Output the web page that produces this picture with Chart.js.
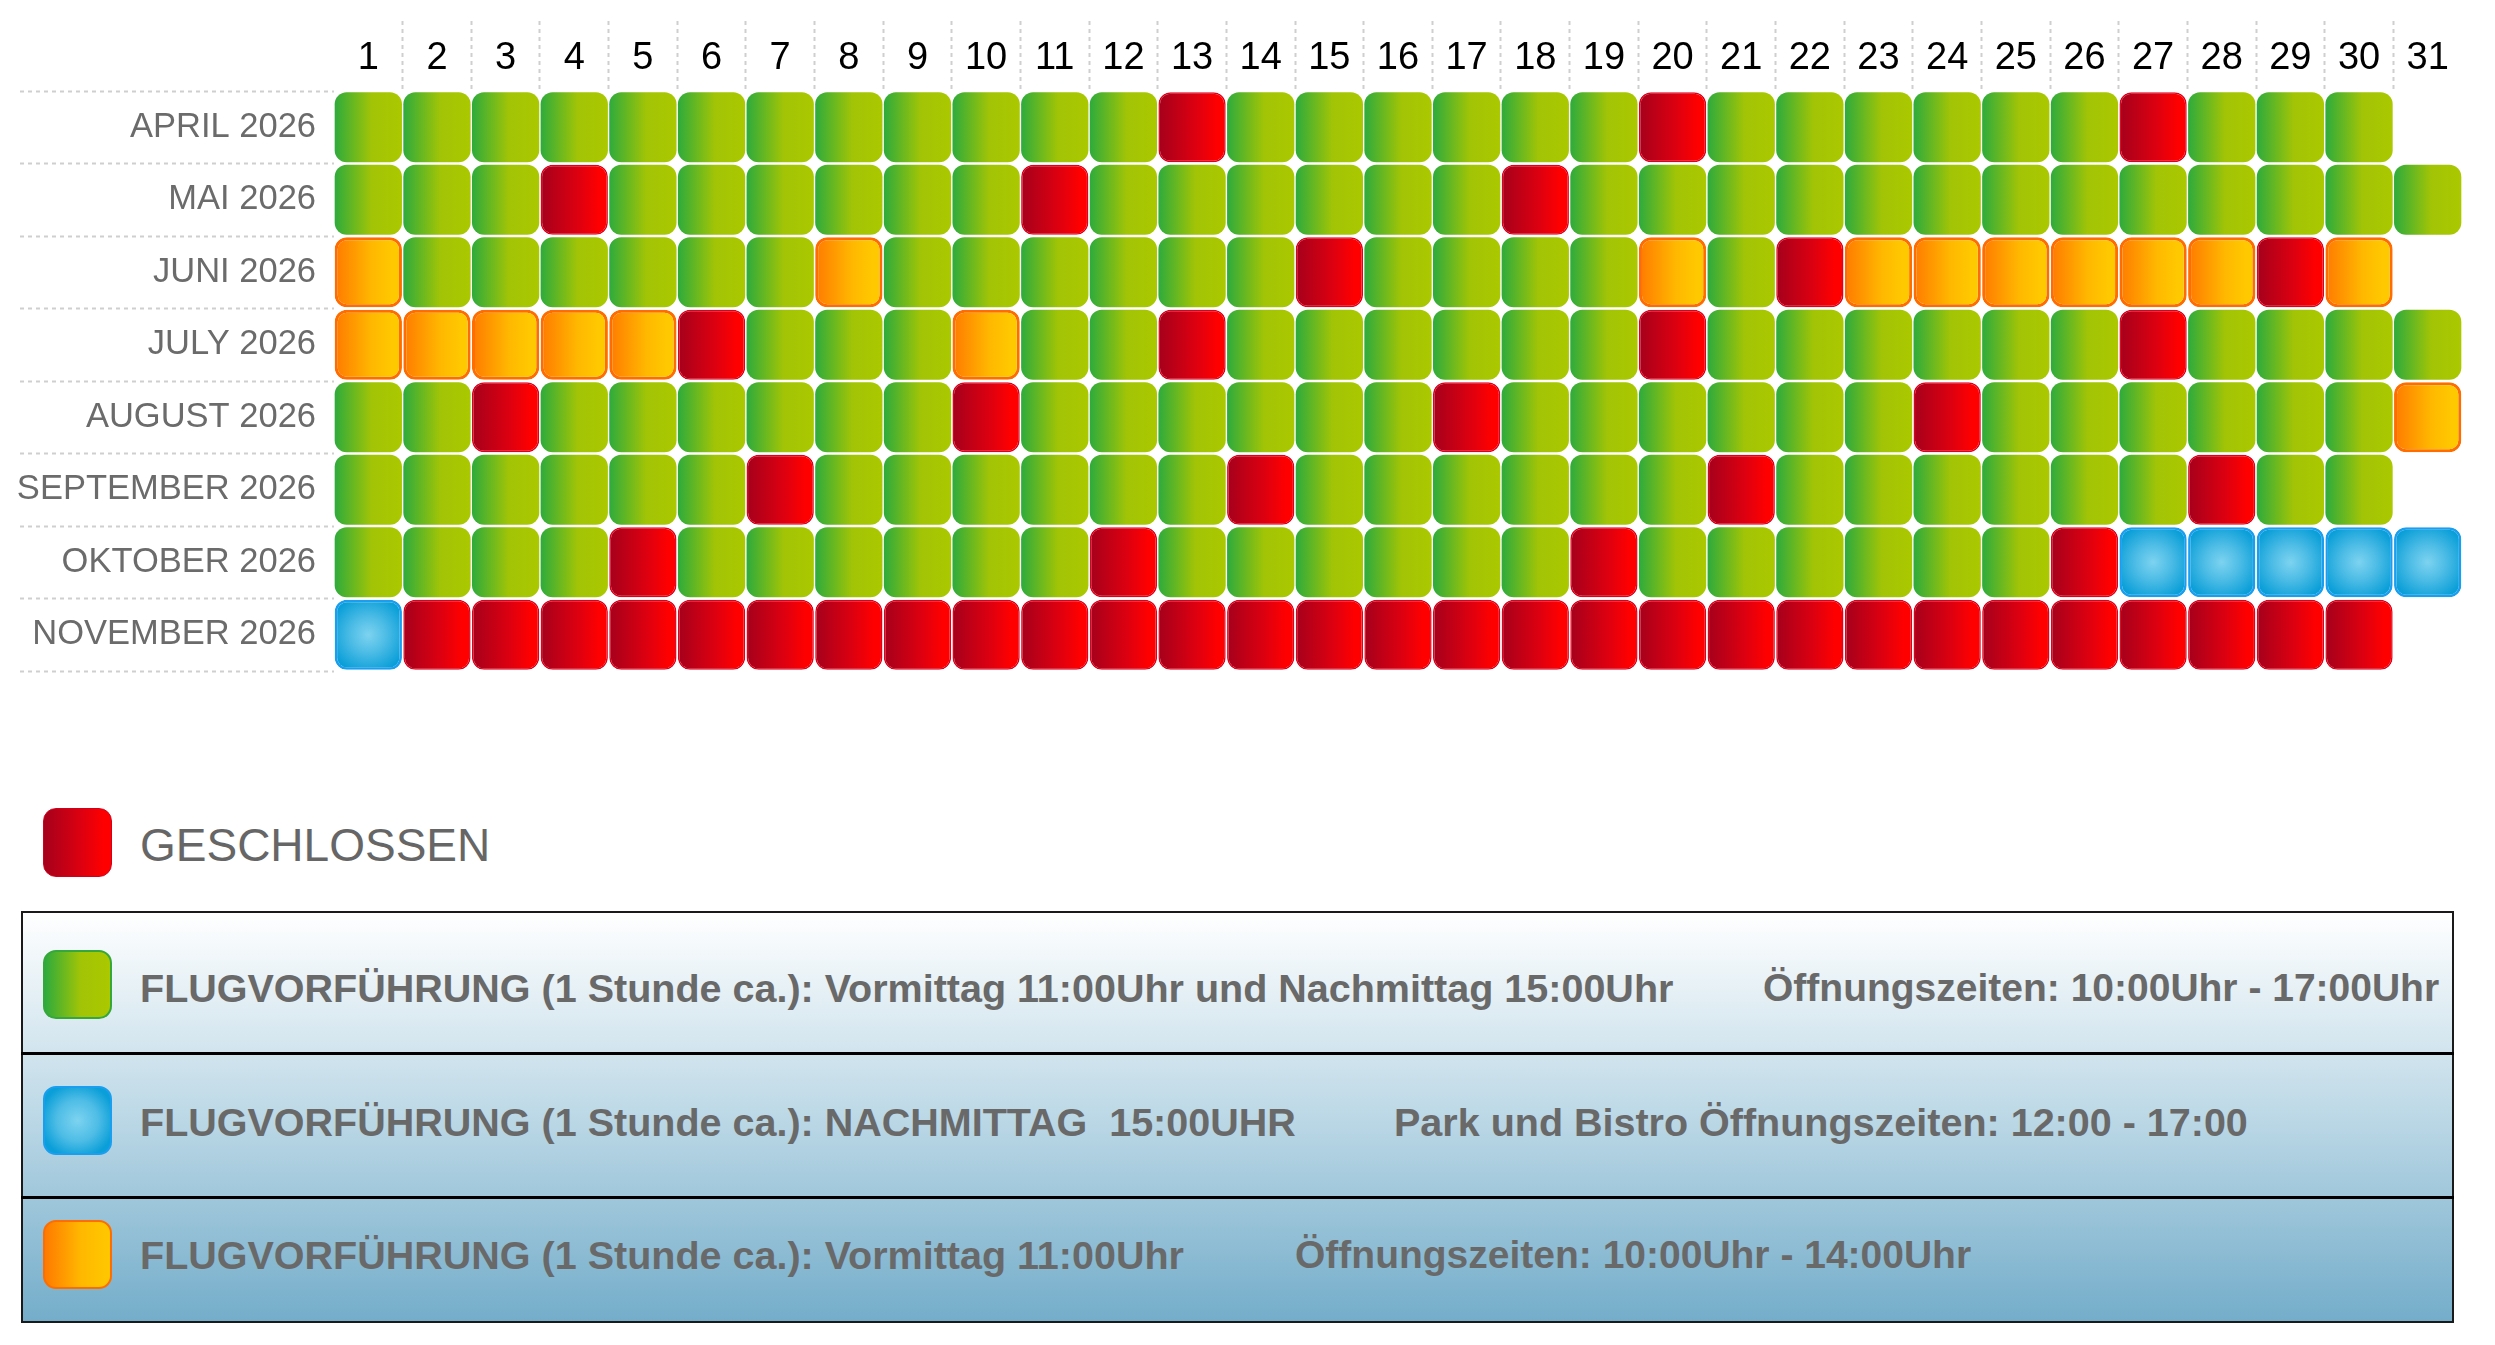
<!DOCTYPE html>
<html>
<head>
<meta charset="utf-8">
<script src="https://cdn.jsdelivr.net/npm/chart.js@4.4.1/dist/chart.umd.min.js"></script>
<style>
  html, body { margin:0; padding:0; background:#fff; width:2495px; height:1345px; overflow:hidden;
    font-family:"Liberation Sans", Arial, sans-serif; }
  #wrap { position:absolute; left:0; top:0; width:2495px; height:700px; }
  .sq { position:absolute; width:69px; height:69px; border-radius:13px; box-sizing:border-box; }
  .sq.R { background:linear-gradient(to right, #a5001c 0%, #dc0010 55%, #ff0000 90%); border:1px solid #d0001a; }
  .sq.G { background:linear-gradient(to right, #2eab3c 0%, #a2c406 55%, #abc800 100%); border:2px solid #34a83a; }
  .sq.B { background:radial-gradient(ellipse at center, #7dd3f0 0%, #4ebde6 45%, #0a9fd8 82%); border:2px solid #1a9ff0; }
  .sq.O { background:linear-gradient(to right, #ff7a00 0%, #ffb800 55%, #ffc800 100%); border:2px solid #ff6c00; }
  .closed { position:absolute; left:140px; top:818px; font-size:46px; line-height:54px; color:#666; white-space:pre; }
  #box { position:absolute; left:21px; top:911px; width:2433px; height:412px; box-sizing:border-box;
    border:2px solid #1a1a1a; background:linear-gradient(to bottom, #ffffff 0%, #bcd8e6 50%, #74adca 100%); }
  .sep { position:absolute; left:21px; width:2433px; height:3px; background:#000; }
  .txt { position:absolute; font-size:39.5px; font-weight:bold; line-height:46px; color:#696969; white-space:pre; }
  .txt.s { font-size:39px; }
</style>
</head>
<body>
<div id="wrap"><canvas id="c" width="2495" height="700"></canvas></div>

<div class="sq R" style="left:43px; top:808px;"></div>
<div class="closed">GESCHLOSSEN</div>

<div id="box"></div>
<div class="sep" style="top:1052px;"></div>
<div class="sep" style="top:1196px;"></div>

<div class="sq G" style="left:43px; top:950px;"></div>
<div class="txt" style="left:140px; top:965px;">FLUGVORFÜHRUNG (1 Stunde ca.): Vormittag 11:00Uhr und Nachmittag 15:00Uhr</div>
<div class="txt s" style="left:1763px; top:965px;">Öffnungszeiten: 10:00Uhr - 17:00Uhr</div>

<div class="sq B" style="left:43px; top:1086px;"></div>
<div class="txt" style="left:140px; top:1099px;">FLUGVORFÜHRUNG (1 Stunde ca.): NACHMITTAG  15:00UHR</div>
<div class="txt" style="left:1394px; top:1099px;">Park und Bistro Öffnungszeiten: 12:00 - 17:00</div>

<div class="sq O" style="left:43px; top:1220px;"></div>
<div class="txt" style="left:140px; top:1232px;">FLUGVORFÜHRUNG (1 Stunde ca.): Vormittag 11:00Uhr</div>
<div class="txt s" style="left:1295px; top:1232px;">Öffnungszeiten: 10:00Uhr - 14:00Uhr</div>

<script>
// ---- data ----
// status codes: G = Flugvorführung 11:00 + 15:00, R = geschlossen, O = nur Vormittag 11:00, B = nur Nachmittag 15:00
const months = ['APRIL 2026', 'MAI 2026', 'JUNI 2026', 'JULY 2026', 'AUGUST 2026', 'SEPTEMBER 2026', 'OKTOBER 2026', 'NOVEMBER 2026'];
const days = ['1','2','3','4','5','6','7','8','9','10','11','12','13','14','15','16','17','18','19','20','21','22','23','24','25','26','27','28','29','30','31'];

const aprilStatus     = 'GGGGGGGGGGGGRGGGGGGRGGGGGGRGGG';
const maiStatus       = 'GGGRGGGGGGRGGGGGGRGGGGGGGGGGGGG';
const juniStatus      = 'OGGGGGGOGGGGGGRGGGGOGROOOOOORO';
const julyStatus      = 'OOOOORGGGOGGRGGGGGGRGGGGGGRGGGG';
const augustStatus    = 'GGRGGGGGGRGGGGGGRGGGGGGRGGGGGGO';
const septemberStatus = 'GGGGGGRGGGGGGRGGGGGGRGGGGGGRGG';
const oktoberStatus   = 'GGGGRGGGGGGRGGGGGGRGGGGGGRBBBBB';
const novemberStatus  = 'BRRRRRRRRRRRRRRRRRRRRRRRRRRRRR';

const monthStatus = [aprilStatus, maiStatus, juniStatus, julyStatus, augustStatus, septemberStatus, oktoberStatus, novemberStatus];
const statusCodes = ['G', 'R', 'O', 'B'];
const statusNames = ['Flugvorführung 11:00 und 15:00', 'Geschlossen', 'Flugvorführung 11:00', 'Flugvorführung 15:00'];

// ---- styles ----
const stops = {
  G: [[0, '#2eab3c'], [0.55, '#a2c406'], [1, '#abc800']],
  R: [[0, '#a5001c'], [0.55, '#dc0010'], [0.88, '#ff0000'], [1, '#ff0000']],
  O: [[0, '#ff7a00'], [0.55, '#ffb800'], [0.85, '#ffc800'], [1, '#ffca00']],
  B: [[0, '#7dd3f0'], [0.45, '#4ebde6'], [1, '#0a9fd8']]
};
const borders = { G: ['#9cc20c', 0], R: ['#e0001c', 1.5], O: ['#ff6c00', 3], B: ['#1a9ff0', 2.5] };

function fillFor(code) {
  return (ctx) => {
    const st = stops[code];
    if (ctx.type !== 'data' || !ctx.raw) return st[1][1];
    const chart = ctx.chart;
    const xs = chart.scales.x, ys = chart.scales.y;
    const x0 = xs.getPixelForValue(ctx.raw.x[0]);
    const x1 = xs.getPixelForValue(ctx.raw.x[1]);
    const yc = ys.getPixelForValue(months.indexOf(ctx.raw.y));
    if (!isFinite(x0) || !isFinite(x1) || !isFinite(yc)) return st[1][1];
    let g;
    if (code === 'B') {
      const cx = (x0 + x1) / 2;
      g = chart.ctx.createRadialGradient(cx, yc, 0, cx, yc, Math.abs(x1 - x0) * 0.58);
    } else {
      g = chart.ctx.createLinearGradient(x0, 0, x1, 0);
    }
    st.forEach(([o, c]) => g.addColorStop(o, c));
    return g;
  };
}

const datasets = statusCodes.map((code, k) => {
  const data = [];
  months.forEach((m, mi) => {
    const s = monthStatus[mi];
    for (let d = 1; d <= s.length; d++) {
      if (s[d - 1] === code) data.push({ x: [d - 0.49, d + 0.49], y: m });
    }
  });
  return {
    label: statusNames[k],
    data,
    backgroundColor: fillFor(code),
    borderColor: borders[code][0],
    borderWidth: borders[code][1],
    borderSkipped: false,
    borderRadius: 12,
    grouped: false,
    categoryPercentage: 1,
    barPercentage: 0.965
  };
});

const fontFam = '"Liberation Sans", Arial, sans-serif';

new Chart(document.getElementById('c'), {
  type: 'bar',
  data: { labels: months, datasets },
  options: {
    responsive: false,
    animation: false,
    indexAxis: 'y',
    layout: { padding: { left: 0, right: 33, top: 0, bottom: 29 } },
    plugins: { legend: { display: false }, tooltip: { enabled: false } },
    scales: {
      x: {
        type: 'linear',
        position: 'top',
        min: 0.5,
        max: 31.5,
        grid: {
          drawOnChartArea: false,
          drawTicks: true,
          tickLength: 70,
          tickWidth: 2,
          tickBorderDash: [4, 4],
          tickColor: (c) => (c.index === 0 || c.index === days.length) ? 'rgba(0,0,0,0)' : '#cfcfcf'
        },
        border: { display: false },
        ticks: {
          stepSize: 1,
          autoSkip: false,
          maxRotation: 0,
          minRotation: 0,
          labelOffset: 34.3,
          padding: -60,
          color: '#000',
          font: { family: fontFam, size: 38 },
          callback: (v, i) => (i < days.length ? days[i] : '')
        },
        afterFit: (s) => { s.height = 91; }
      },
      y: {
        type: 'category',
        labels: months,
        offset: true,
        grid: {
          offset: true,
          drawOnChartArea: false,
          drawTicks: true,
          tickLength: 314,
          tickWidth: 2,
          tickBorderDash: [4, 4],
          tickColor: '#cfcfcf'
        },
        border: { display: false },
        ticks: {
          autoSkip: false,
          padding: -296,
          color: '#6b6b6b',
          font: { family: fontFam, size: 34.5 }
        },
        afterFit: (s) => { s.width = 334; }
      }
    }
  }
});
</script>
</body>
</html>
